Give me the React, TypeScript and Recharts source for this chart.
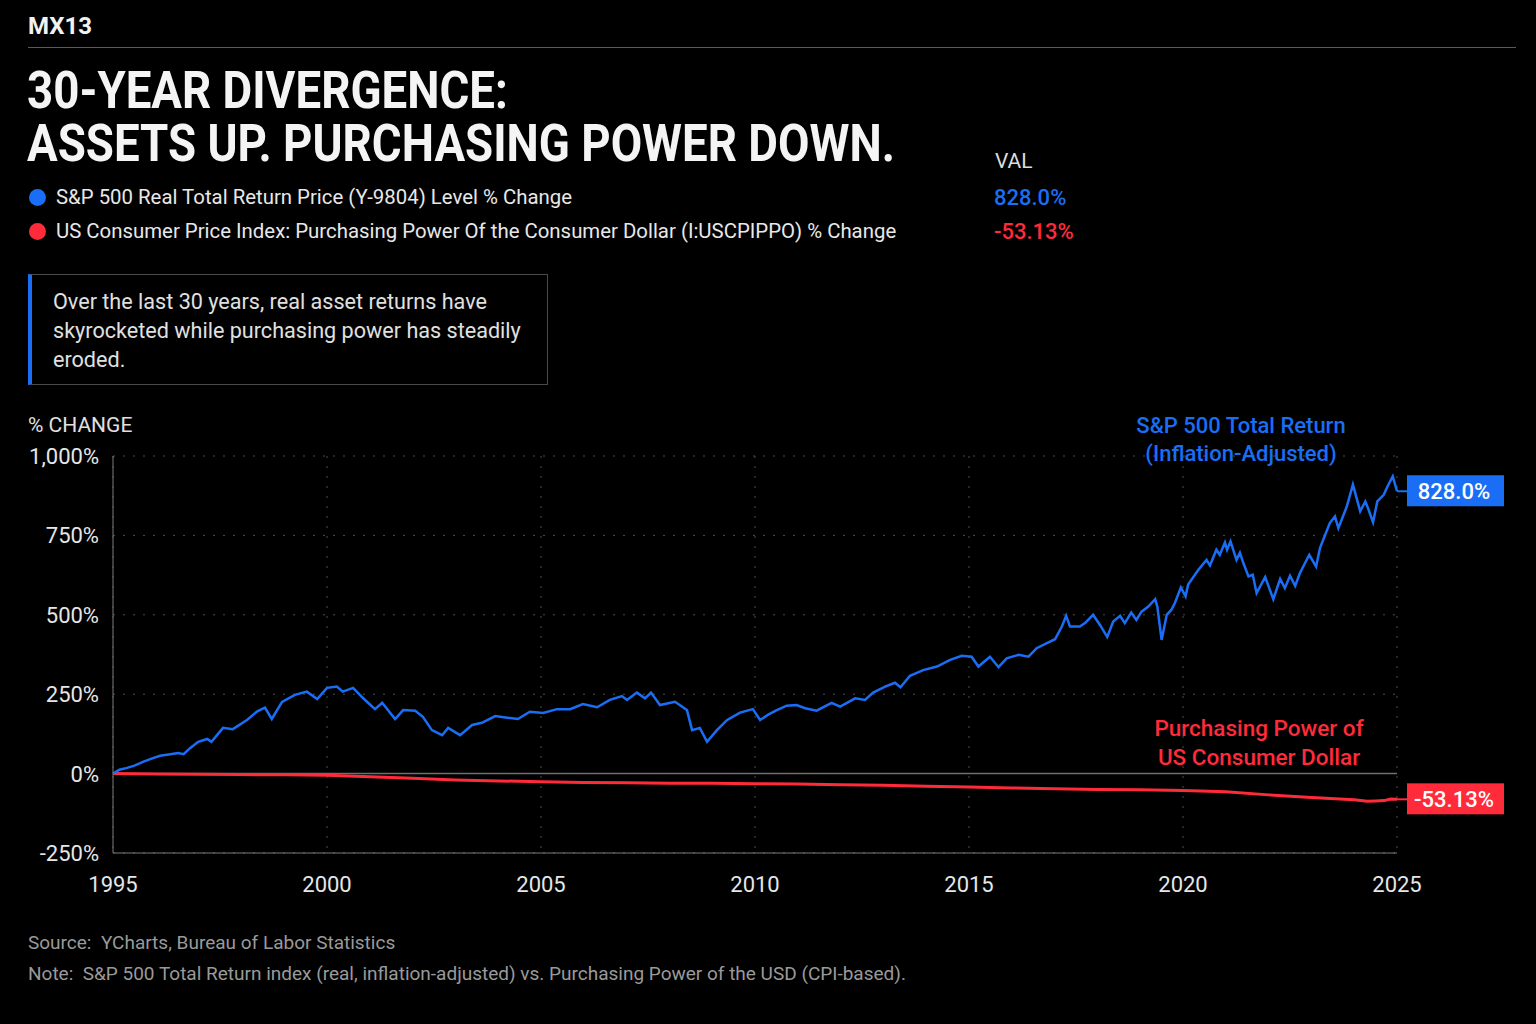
import React from 'react';
import { LineChart, Line, XAxis, YAxis, CartesianGrid, ReferenceLine } from 'recharts';

// [year, % change]
const spxSeries: [number, number][] = [
  [1995.0, 0], [1995.15, 12], [1995.33, 18], [1995.5, 25], [1995.7, 37], [1995.9, 47],
  [1996.1, 56], [1996.3, 60], [1996.52, 65], [1996.65, 61], [1996.8, 80], [1996.99, 100],
  [1997.2, 109], [1997.3, 100], [1997.57, 144], [1997.8, 140], [1998.13, 169], [1998.36, 195],
  [1998.55, 208], [1998.71, 172], [1998.95, 226], [1999.25, 248], [1999.53, 258], [1999.77, 235],
  [2000.0, 270], [2000.23, 274], [2000.37, 258], [2000.61, 270], [2000.84, 238], [2001.12, 203],
  [2001.29, 223], [2001.59, 172], [2001.78, 200], [2002.06, 198], [2002.24, 179], [2002.45, 137],
  [2002.69, 121], [2002.83, 144], [2003.11, 121], [2003.39, 153], [2003.62, 160], [2003.93, 181],
  [2004.21, 176], [2004.46, 172], [2004.74, 195], [2005.05, 191], [2005.37, 203], [2005.68, 203],
  [2005.98, 219], [2006.31, 209], [2006.61, 232], [2006.89, 244], [2007.01, 232], [2007.24, 255],
  [2007.43, 237], [2007.57, 255], [2007.78, 216], [2008.13, 226], [2008.41, 200], [2008.53, 137],
  [2008.71, 144], [2008.88, 100], [2009.11, 137], [2009.35, 169], [2009.65, 192], [2009.95, 203],
  [2010.12, 169], [2010.3, 185], [2010.51, 200], [2010.74, 214], [2010.97, 216], [2011.17, 206],
  [2011.44, 198], [2011.79, 223], [2011.99, 211], [2012.34, 237], [2012.57, 232], [2012.76, 255],
  [2013.04, 274], [2013.27, 286], [2013.4, 272], [2013.62, 308], [2013.93, 326], [2014.25, 337],
  [2014.56, 358], [2014.83, 371], [2015.06, 368], [2015.22, 337], [2015.49, 368], [2015.69, 335],
  [2015.88, 363], [2016.16, 374], [2016.39, 368], [2016.58, 395], [2016.82, 411], [2017.01, 423],
  [2017.17, 463], [2017.27, 497], [2017.36, 463], [2017.59, 463], [2017.71, 474], [2017.9, 500],
  [2018.06, 468], [2018.23, 430], [2018.37, 479], [2018.53, 497], [2018.64, 474], [2018.79, 507],
  [2018.91, 484], [2019.03, 510], [2019.19, 526], [2019.35, 549], [2019.4, 526], [2019.5, 421],
  [2019.62, 500], [2019.73, 516], [2019.81, 537], [2019.95, 586], [2020.06, 558], [2020.12, 595],
  [2020.36, 642], [2020.55, 673], [2020.63, 655], [2020.78, 705], [2020.86, 689], [2020.98, 728],
  [2021.03, 705], [2021.11, 731], [2021.25, 673], [2021.33, 695], [2021.41, 663], [2021.53, 621],
  [2021.63, 626], [2021.72, 568], [2021.92, 619], [2022.11, 549], [2022.27, 613], [2022.38, 584],
  [2022.5, 623], [2022.62, 591], [2022.73, 631], [2022.95, 689], [2023.11, 652], [2023.2, 710],
  [2023.43, 789], [2023.55, 810], [2023.63, 773], [2023.83, 842], [2023.97, 910], [2024.14, 826],
  [2024.26, 857], [2024.33, 833], [2024.44, 791], [2024.54, 857], [2024.69, 878], [2024.78, 905],
  [2024.9, 936], [2025.0, 889],
];

const ppSeries: [number, number][] = [
  [1995.0, 0], [1996.0, -1], [1997.0, -2], [1998.0, -3], [1999.0, -4], [2000.0, -5],
  [2001.0, -10], [2002.0, -15], [2003.0, -20], [2004.0, -23], [2005.0, -26], [2006.0, -28],
  [2007.0, -29], [2008.0, -30], [2009.0, -30], [2010.0, -32], [2011.0, -33], [2012.0, -35],
  [2013.0, -37], [2014.0, -40], [2015.0, -42], [2016.0, -45], [2017.0, -48], [2018.0, -50],
  [2019.0, -51], [2020.0, -53], [2021.0, -57], [2022.0, -67], [2023.0, -75], [2024.0, -82],
  [2024.3, -87], [2024.5, -86], [2024.7, -85], [2024.85, -80], [2025.0, -81],
];

const xTicks = [1995, 2000, 2005, 2010, 2015, 2020, 2025];
const yTicks = [-250, 0, 250, 500, 750, 1000];

const spxLast = '828.0%';
const ppLast = '-53.13%';

const spxData = spxSeries.map(([t, v]) => ({ t, v }));
const ppData = ppSeries.map(([t, v]) => ({ t, v }));

const BLUE = '#1a6ef5';
const RED = '#ff2b3b';
const FONT = 'Roboto, "Noto Sans", sans-serif';

const fmtPct = (v: number) => `${v.toLocaleString('en-US')}%`;

function T({ x, cy, size, weight = 400, color = '#e8e8e8', sx = 1, center = false, lh, children }: any) {
  const L = lh ?? Math.round(size * 1.3);
  return (
    <div
      style={{
        position: 'absolute',
        left: x,
        top: cy - L / 2,
        lineHeight: `${L}px`,
        fontSize: size,
        fontWeight: weight,
        color,
        fontFamily: FONT,
        whiteSpace: 'nowrap',
        transform: center ? `translateX(-50%) scaleX(${sx})` : `scaleX(${sx})`,
        transformOrigin: center ? 'center' : 'left center',
      }}
    >
      {children}
    </div>
  );
}

function YTick({ x, y, payload }: any) {
  return (
    <g transform={`translate(${x - 14},${y})`}>
      <text textAnchor="end" dy="0.36em" fill="#e6e6e6" fontSize={22} fontFamily={FONT}>
        {fmtPct(payload.value)}
      </text>
    </g>
  );
}

function XTick({ x, y, payload }: any) {
  return (
    <g transform={`translate(${x},${y + 31})`}>
      <text textAnchor="middle" dy="0.36em" fill="#e6e6e6" fontSize={22} fontFamily={FONT}>
        {payload.value}
      </text>
    </g>
  );
}

const endLabel = (text: string, color: string, n: number) => (props: any) => {
  const { x, y, index } = props;
  if (index !== n - 1) return null;
  return (
    <g>
      <line x1={x} y1={y} x2={x + 10} y2={y} stroke={color} strokeWidth={2} />
      <rect x={x + 10} y={y - 16} width={97} height={31} fill={color} />
      <text x={x + 57} y={y} textAnchor="middle" dy="0.36em" fill="#fff" fontSize={22} fontWeight={500} fontFamily={FONT}>
        {text}
      </text>
    </g>
  );
};

export default function App() {
  return (
    <div style={{ position: 'absolute', left: 0, top: 0, width: 1536, height: 1024, background: '#000', overflow: 'hidden' }}>
      <T x={28} cy={26} size={24} weight={700} color="#f2f2f2">MX13</T>
      <div style={{ position: 'absolute', left: 28, top: 47, width: 1488, height: 1, background: '#5a5a5a' }} />

      <T x={27} cy={90} size={52} weight={700} color="#f4f4f4" sx={0.878} lh={53}>
        30-YEAR DIVERGENCE:<br />
        ASSETS UP. PURCHASING POWER DOWN.
      </T>

      <T x={995} cy={161} size={21} color="#dcdcdc">VAL</T>

      <div style={{ position: 'absolute', left: 29, top: 189, width: 17, height: 17, borderRadius: '50%', background: BLUE }} />
      <T x={56} cy={197} size={21} sx={0.97}>S&amp;P 500 Real Total Return Price (Y-9804) Level % Change</T>
      <T x={994} cy={197} size={22} weight={500} color={BLUE}>{spxLast}</T>

      <div style={{ position: 'absolute', left: 29, top: 223, width: 17, height: 17, borderRadius: '50%', background: RED }} />
      <T x={56} cy={231} size={21} sx={0.97}>US Consumer Price Index: Purchasing Power Of the Consumer Dollar (I:USCPIPPO) % Change</T>
      <T x={994} cy={231} size={22} weight={500} color={RED}>{ppLast}</T>

      <div
        style={{
          position: 'absolute', left: 28, top: 274, width: 515, height: 109,
          border: '1px solid #4a4a4a', borderLeft: `4px solid ${BLUE}`,
        }}
      />
      <T x={53} cy={301} size={21.6} lh={29} color="#e0e0e0">
        Over the last 30 years, real asset returns have<br />
        skyrocketed while purchasing power has steadily<br />
        eroded.
      </T>

      <T x={28} cy={425} size={21} color="#e0e0e0">% CHANGE</T>

      <div style={{ position: 'absolute', left: 0, top: 400 }}>
        <LineChart width={1536} height={520} margin={{ top: 56, right: 139, bottom: 27, left: 33 }}>
          <CartesianGrid stroke="#4d4d4d" strokeDasharray="2 8" />
          <XAxis
            dataKey="t"
            type="number"
            domain={[1995, 2025]}
            ticks={xTicks}
            allowDuplicatedCategory={false}
            height={40}
            stroke="#7a7a7a"
            tickLine={false}
            tickSize={0}
            tickMargin={0}
            tick={<XTick />}
          />
          <YAxis
            type="number"
            domain={[-250, 1000]}
            ticks={yTicks}
            width={80}
            stroke="#7a7a7a"
            tickLine={false}
            tickSize={0}
            tickMargin={0}
            tick={<YTick />}
          />
          <ReferenceLine y={0} stroke="#6e6e6e" strokeWidth={1.5} />
          <Line
            data={ppData}
            dataKey="v"
            type="linear"
            stroke={RED}
            strokeWidth={3}
            dot={false}
            isAnimationActive={false}
            label={endLabel(ppLast, RED, ppData.length)}
          />
          <Line
            data={spxData}
            dataKey="v"
            type="linear"
            stroke={BLUE}
            strokeWidth={2.5}
            dot={false}
            isAnimationActive={false}
            label={endLabel(spxLast, BLUE, spxData.length)}
          />
        </LineChart>
      </div>

      <T x={1241} cy={425} size={22} weight={500} color={BLUE} center>S&amp;P 500 Total Return</T>
      <T x={1241} cy={453} size={22} weight={500} color={BLUE} center>(Inflation-Adjusted)</T>
      <T x={1259} cy={728} size={22.5} weight={500} color={RED} center>Purchasing Power of</T>
      <T x={1259} cy={757} size={22.5} weight={500} color={RED} center>US Consumer Dollar</T>

      <T x={28} cy={942} size={19} color="#9a9a9a">Source:&nbsp; YCharts, Bureau of Labor Statistics</T>
      <T x={28} cy={973} size={19} color="#9a9a9a">Note:&nbsp; S&amp;P 500 Total Return index (real, inflation-adjusted) vs. Purchasing Power of the USD (CPI-based).</T>
    </div>
  );
}
